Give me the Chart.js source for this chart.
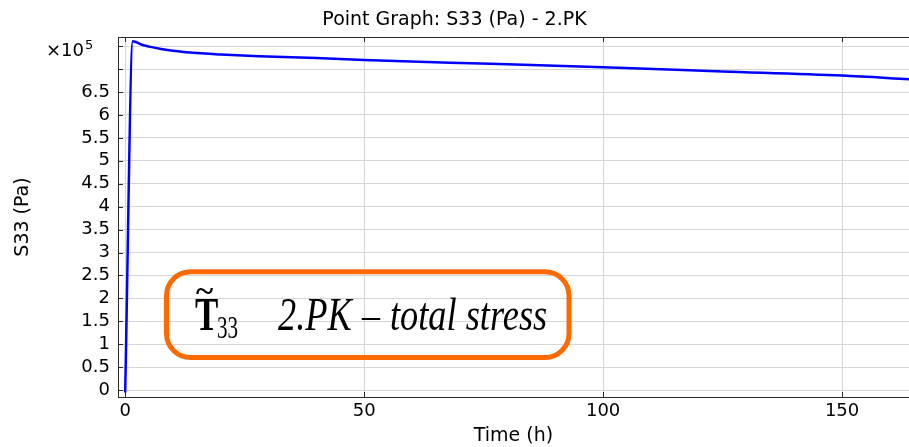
<!DOCTYPE html>
<html>
<head>
<meta charset="utf-8">
<script src="https://cdn.jsdelivr.net/npm/chart.js@4"></script>
<style>
  body { margin: 0; background: #fff; }
  #wrap { width: 909px; height: 447px; }
</style>
</head>
<body>
<div id="wrap"><canvas id="myChart" width="909" height="447"></canvas></div>
<script>
// S33 values are in units of 1e5 Pa (axis shows x10^5)
const timeH = [0, 1.6, 3.5, 5, 7.5, 10, 15, 20, 28, 40, 50, 68, 85, 100, 125, 150, 164];
const s33 = [-0.05, 7.61, 7.53, 7.49, 7.44, 7.40, 7.35, 7.32, 7.28, 7.24, 7.20, 7.14, 7.09, 7.04, 6.95, 6.86, 6.78];
const xTicks = [0, 50, 100, 150];
const yTicks = [0, 0.5, 1, 1.5, 2, 2.5, 3, 3.5, 4, 4.5, 5, 5.5, 6, 6.5, 7, 7.5];
const yLabelMax = 6.5;

const gridColor = '#d6d6d6';
const frameColor = '#2a2a2a';
const tickFont = { family: 'DejaVu Sans', size: 18 };
const titleFont = { family: 'DejaVu Sans', size: 19 };

// inward tick marks, top frame line, x10^5 and the annotation box
const extras = {
  id: 'extras',
  afterDraw(chart) {
    const c = chart.ctx;
    const a = chart.chartArea;
    const xs = chart.scales.x;
    const ys = chart.scales.y;
    c.save();
    c.strokeStyle = frameColor;
    c.lineWidth = 1;
    c.beginPath();
    c.moveTo(a.left, a.top + 0.5);
    c.lineTo(a.right, a.top + 0.5);
    yTicks.forEach(v => {
      const y = Math.round(ys.getPixelForValue(v)) + 0.5;
      c.moveTo(a.left, y);
      c.lineTo(a.left + 5, y);
    });
    xTicks.forEach(v => {
      const x = Math.round(xs.getPixelForValue(v)) + 0.5;
      c.moveTo(x, a.bottom);
      c.lineTo(x, a.bottom - 5);
      c.moveTo(x, a.top);
      c.lineTo(x, a.top + 5);
    });
    c.stroke();

    // exponent label
    c.fillStyle = '#000';
    c.textBaseline = 'alphabetic';
    c.font = '18px "DejaVu Sans"';
    c.fillText('\u00d710', 46, 56);
    const w = c.measureText('\u00d710').width;
    c.font = '13px "DejaVu Sans"';
    c.fillText('5', 46 + w + 1, 49);

    // annotation box
    c.strokeStyle = '#ff6a00';
    c.lineWidth = 5;
    c.beginPath();
    c.roundRect(166.5, 271.8, 402.5, 85.7, 24);
    c.stroke();

    const put = (txt, x, y, font, sx) => {
      c.save();
      c.font = font;
      c.translate(x, y);
      c.scale(sx, 1);
      c.fillText(txt, 0, 0);
      c.restore();
    };
    c.fillStyle = '#000';
    put('T', 195, 330, 'bold 46px "Liberation Serif"', 0.76);
    put('~', 196, 301, 'bold 30px "Liberation Serif"', 1.1);
    put('33', 217, 338, '31px "Liberation Serif"', 0.68);
    put('2.PK', 278, 330, 'italic 46px "Liberation Serif"', 0.79);
    put('\u2013', 362, 328, '40px "Liberation Serif"', 0.9);
    put('total stress', 390, 330, 'italic 46px "Liberation Serif"', 0.79);
    c.restore();
  }
};

const ctx = document.getElementById('myChart');
const myChart = new Chart(ctx, {
  type: 'line',
  data: {
    datasets: [{
      data: timeH.map((t, i) => ({ x: t, y: s33[i] })),
      borderColor: '#0000ff',
      borderWidth: 2.5,
      pointRadius: 0,
      cubicInterpolationMode: 'monotone',
      fill: false
    }]
  },
  options: {
    responsive: false,
    animation: false,
    layout: { padding: 0 },
    plugins: {
      legend: { display: false },
      tooltip: { enabled: false },
      title: {
        display: true,
        text: 'Point Graph: S33 (Pa) - 2.PK',
        color: '#000',
        font: { family: 'DejaVu Sans', size: 19, weight: 'normal' },
        padding: { top: 8.6, bottom: 5.6 }
      }
    },
    scales: {
      x: {
        type: 'linear',
        min: -1.5,
        max: 164,
        afterBuildTicks: s => { s.ticks = xTicks.map(v => ({ value: v })); },
        afterFit: s => { s.height = 50; },
        ticks: {
          color: '#000',
          font: tickFont,
          padding: 4,
          maxRotation: 0,
          autoSkip: false,
          callback: v => String(v)
        },
        grid: { color: gridColor, drawTicks: false },
        border: { color: frameColor },
        title: {
          display: true,
          text: 'Time (h)',
          color: '#000',
          font: titleFont,
          padding: { top: 0, bottom: 0 }
        }
      },
      y: {
        min: -0.15,
        max: 7.7,
        afterBuildTicks: s => { s.ticks = yTicks.map(v => ({ value: v })); },
        afterFit: s => { s.width = 118; },
        ticks: {
          color: '#000',
          font: tickFont,
          padding: 8,
          autoSkip: false,
          callback: v => (v <= yLabelMax ? String(v) : '')
        },
        grid: { color: gridColor, drawTicks: false },
        border: { color: frameColor },
        title: {
          display: true,
          text: 'S33 (Pa)',
          color: '#000',
          font: titleFont,
          padding: { top: 12, bottom: 0 }
        }
      }
    }
  },
  plugins: [extras]
});
</script>
</body>
</html>
